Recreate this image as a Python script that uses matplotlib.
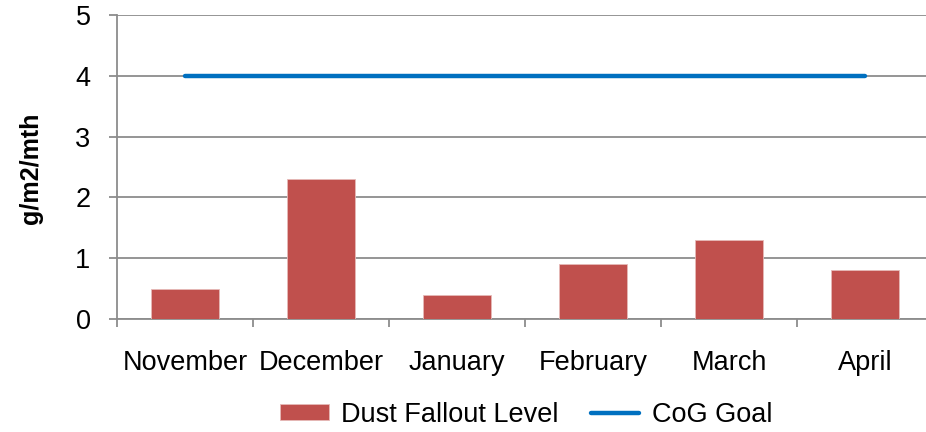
import numpy as np
import matplotlib
matplotlib.use("Agg")
import matplotlib.pyplot as plt

months = ["November", "December", "January", "February", "March", "April"]
dust = [0.5, 2.3, 0.4, 0.9, 1.3, 0.8]
goal = [4, 4, 4, 4, 4, 4]

plt.rcParams['font.family'] = ['Liberation Sans', 'DejaVu Sans']
fs = 19.5

fig = plt.figure(figsize=(9.26, 4.32), dpi=100)
ax = fig.add_axes([0.1263, 0.2616, 0.8813, 0.7037])

x = np.arange(len(months))
bars = ax.bar(x, dust, width=0.5, color="#C0504D", edgecolor="#E6B9B8",
              linewidth=0.6, zorder=3, label="Dust Fallout Level")
line, = ax.plot(x, goal, color="#0070C0", linewidth=3.2, solid_capstyle="round",
                zorder=4, label="CoG Goal")

ax.set_xlim(-0.5, len(months) - 0.5)
ax.set_ylim(0, 5)
ax.set_yticks(range(6))
ax.set_yticklabels([str(v) for v in range(6)], fontsize=fs)
ax.yaxis.grid(True, color="#8C8C8C", linewidth=1.3, zorder=0)

ax.set_xticks(x)
ax.set_xticklabels(months, fontsize=fs)
ax.tick_params(axis="x", which="major", length=0, pad=22)
ax.set_xticks(np.arange(-0.5, len(months)), minor=True)
ax.tick_params(axis="x", which="minor", length=6, width=1.3, color="#8C8C8C")
ax.tick_params(axis="y", length=6, width=1.3, color="#8C8C8C", pad=13)

for side in ["top", "right"]:
    ax.spines[side].set_visible(False)
ax.spines["left"].set_color("#8C8C8C")
ax.spines["left"].set_linewidth(1.3)
ax.spines["bottom"].set_color("#8C8C8C")
ax.spines["bottom"].set_linewidth(1.3)

fig.text(0.033, 0.61, "g/m2/mth", rotation=90, fontsize=fs * 0.93, fontweight="bold",
         ha="center", va="center")

fig.legend(handles=[bars, line], loc="center", bbox_to_anchor=(0.568, 0.040),
           ncol=2, frameon=False, fontsize=fs, handlelength=1.8, handleheight=0.55,
           columnspacing=1.2, handletextpad=0.45)

fig.savefig("out.png", dpi=100)
